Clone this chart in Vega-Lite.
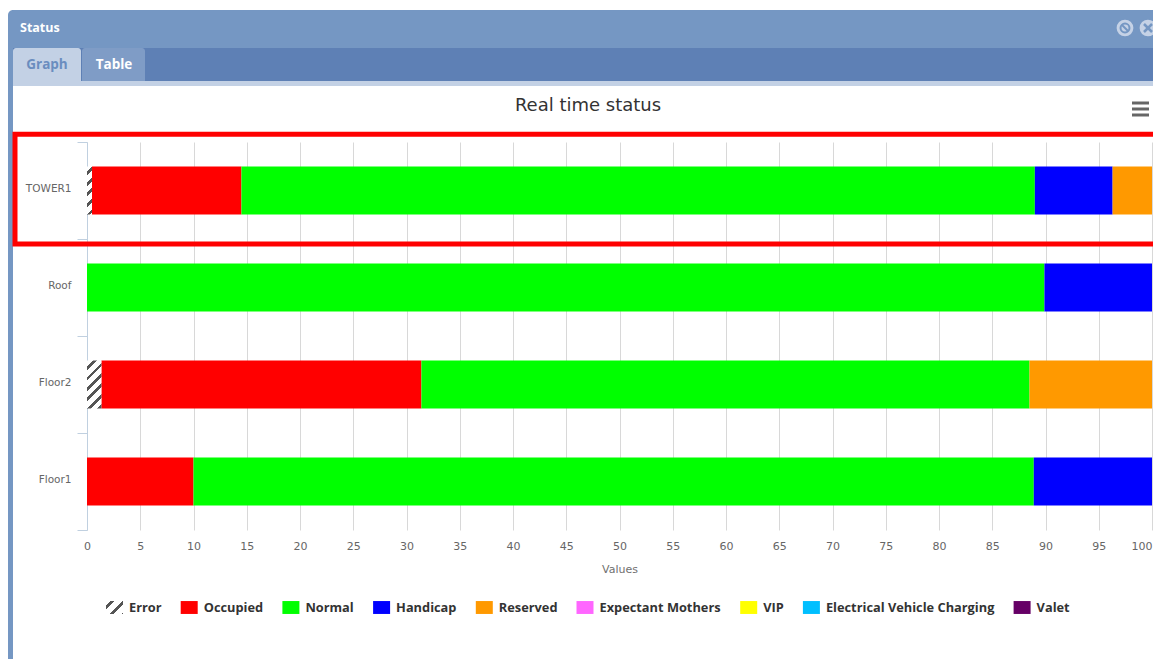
{"$schema":"https://vega.github.io/schema/vega-lite/v6.json","width":1065,"height":388,"autosize":{"type":"none"},"padding":{"left":87,"top":142,"right":1,"bottom":129},"background":"#ffffff","config":{"view":{"stroke":null}},"datasets":{"status":[{"location":"TOWER1","status":"Error","seq":1,"value":0.47},{"location":"TOWER1","status":"Occupied","seq":2,"value":14.03},{"location":"TOWER1","status":"Normal","seq":3,"value":74.5},{"location":"TOWER1","status":"Handicap","seq":4,"value":7.3},{"location":"TOWER1","status":"Reserved","seq":5,"value":3.7},{"location":"Roof","status":"Normal","seq":3,"value":89.9},{"location":"Roof","status":"Handicap","seq":4,"value":10.1},{"location":"Floor2","status":"Error","seq":1,"value":1.35},{"location":"Floor2","status":"Occupied","seq":2,"value":30.05},{"location":"Floor2","status":"Normal","seq":3,"value":57.1},{"location":"Floor2","status":"Reserved","seq":5,"value":11.5},{"location":"Floor1","status":"Occupied","seq":2,"value":10},{"location":"Floor1","status":"Normal","seq":3,"value":78.9},{"location":"Floor1","status":"Handicap","seq":4,"value":11.1}]},"resolve":{"scale":{"x":"independent","y":"independent"}},"layer":[{"data":{"values":[{}]},"layer":[{"mark":{"type":"rect","color":"#7597c3","cornerRadiusTopLeft":5,"cornerRadiusTopRight":5,"clip":false},"encoding":{"x":{"datum":-79,"type":"quantitative","axis":null,"scale":{"domain":[0,1065],"nice":false,"zero":false}},"x2":{"datum":1070},"y":{"datum":-132,"type":"quantitative","axis":null,"scale":{"domain":[0,388],"reverse":true,"nice":false,"zero":false}},"y2":{"datum":-94}}},{"mark":{"type":"rect","color":"#7597c3"},"encoding":{"x":{"datum":-79,"type":"quantitative","axis":null},"x2":{"datum":-74},"y":{"datum":-100,"type":"quantitative","axis":null},"y2":{"datum":517}}},{"mark":{"type":"rect","color":"#5e80b5"},"encoding":{"x":{"datum":-74,"type":"quantitative","axis":null},"x2":{"datum":1070},"y":{"datum":-94,"type":"quantitative","axis":null},"y2":{"datum":-61}}},{"mark":{"type":"rect","color":"#c3d1e5"},"encoding":{"x":{"datum":-74,"type":"quantitative","axis":null},"x2":{"datum":1070},"y":{"datum":-61,"type":"quantitative","axis":null},"y2":{"datum":-56}}},{"mark":{"type":"rect","color":"#c3d1e5","cornerRadiusTopLeft":3,"cornerRadiusTopRight":3},"encoding":{"x":{"datum":-74,"type":"quantitative","axis":null},"x2":{"datum":-6},"y":{"datum":-94,"type":"quantitative","axis":null},"y2":{"datum":-61}}},{"mark":{"type":"rect","color":"#7f9cc6","cornerRadiusTopLeft":3,"cornerRadiusTopRight":3},"encoding":{"x":{"datum":-5,"type":"quantitative","axis":null},"x2":{"datum":58},"y":{"datum":-94,"type":"quantitative","axis":null},"y2":{"datum":-61}}},{"mark":{"type":"text","text":"Status","font":"Open Sans","fontWeight":"bold","fontSize":12.5,"color":"#ffffff","align":"left","baseline":"middle"},"encoding":{"x":{"datum":-67,"type":"quantitative","axis":null},"y":{"datum":-114,"type":"quantitative","axis":null}}},{"mark":{"type":"text","text":"Graph","font":"Open Sans","fontWeight":"bold","fontSize":13.5,"color":"#6a8dbf","align":"center","baseline":"middle"},"encoding":{"x":{"datum":-40,"type":"quantitative","axis":null},"y":{"datum":-77,"type":"quantitative","axis":null}}},{"mark":{"type":"text","text":"Table","font":"Open Sans","fontWeight":"bold","fontSize":13.5,"color":"#ffffff","align":"center","baseline":"middle"},"encoding":{"x":{"datum":27,"type":"quantitative","axis":null},"y":{"datum":-77,"type":"quantitative","axis":null}}},{"mark":{"type":"text","text":"Real time status","font":"DejaVu Sans","fontSize":18,"color":"#333333","align":"center","baseline":"middle"},"encoding":{"x":{"datum":501,"type":"quantitative","axis":null},"y":{"datum":-36,"type":"quantitative","axis":null}}},{"mark":{"type":"point","filled":true,"shape":"circle","size":280,"color":"#c5d2e6","opacity":1},"encoding":{"x":{"datum":1038,"type":"quantitative","axis":null},"y":{"datum":-114,"type":"quantitative","axis":null}}},{"mark":{"type":"point","filled":false,"shape":"circle","size":80,"stroke":"#7597c3","strokeWidth":2,"opacity":1},"encoding":{"x":{"datum":1038,"type":"quantitative","axis":null},"y":{"datum":-114,"type":"quantitative","axis":null}}},{"mark":{"type":"rule","color":"#7597c3","strokeWidth":2},"encoding":{"x":{"datum":1035,"type":"quantitative","axis":null},"x2":{"datum":1041},"y":{"datum":-117,"type":"quantitative","axis":null},"y2":{"datum":-111}}},{"mark":{"type":"point","filled":true,"shape":"circle","size":280,"color":"#c5d2e6","opacity":1},"encoding":{"x":{"datum":1061,"type":"quantitative","axis":null},"y":{"datum":-114,"type":"quantitative","axis":null}}},{"mark":{"type":"rule","color":"#7597c3","strokeWidth":2.5},"encoding":{"x":{"datum":1057,"type":"quantitative","axis":null},"x2":{"datum":1065},"y":{"datum":-118,"type":"quantitative","axis":null},"y2":{"datum":-110}}},{"mark":{"type":"rule","color":"#7597c3","strokeWidth":2.5},"encoding":{"x":{"datum":1065,"type":"quantitative","axis":null},"x2":{"datum":1057},"y":{"datum":-118,"type":"quantitative","axis":null},"y2":{"datum":-110}}},{"mark":{"type":"rule","color":"#666666","strokeWidth":3},"encoding":{"x":{"datum":1045,"type":"quantitative","axis":null},"x2":{"datum":1062},"y":{"datum":-39,"type":"quantitative","axis":null}}},{"mark":{"type":"rule","color":"#666666","strokeWidth":3},"encoding":{"x":{"datum":1045,"type":"quantitative","axis":null},"x2":{"datum":1062},"y":{"datum":-33,"type":"quantitative","axis":null}}},{"mark":{"type":"rule","color":"#666666","strokeWidth":3},"encoding":{"x":{"datum":1045,"type":"quantitative","axis":null},"x2":{"datum":1062},"y":{"datum":-27,"type":"quantitative","axis":null}}},{"mark":{"type":"rect","fillOpacity":0,"stroke":"#ff0000","strokeWidth":5,"clip":false},"encoding":{"x":{"datum":-72,"type":"quantitative","axis":null},"x2":{"datum":1085},"y":{"datum":-7.7,"type":"quantitative","axis":null},"y2":{"datum":102}}},{"mark":{"type":"rect","clip":false,"color":{"gradient":"linear","x1":0,"y1":0,"x2":1.11,"y2":0.85,"stops":[{"offset":0,"color":"#ffffff"},{"offset":0.15,"color":"#ffffff"},{"offset":0.15,"color":"#555555"},{"offset":0.27,"color":"#555555"},{"offset":0.27,"color":"#ffffff"},{"offset":0.55,"color":"#ffffff"},{"offset":0.55,"color":"#555555"},{"offset":0.67,"color":"#555555"},{"offset":0.67,"color":"#ffffff"},{"offset":0.95,"color":"#ffffff"},{"offset":0.95,"color":"#555555"},{"offset":1,"color":"#555555"}]}},"encoding":{"x":{"datum":19,"type":"quantitative","axis":null},"x2":{"datum":36},"y":{"datum":459,"type":"quantitative","axis":null},"y2":{"datum":472}}}]},{"data":{"name":"status"},"layer":[{"mark":{"type":"bar","size":48},"encoding":{"y":{"field":"location","type":"nominal","sort":["TOWER1","Roof","Floor2","Floor1"],"scale":{"padding":0},"axis":{"title":null,"tickBand":"extent","tickSize":10,"tickColor":"#c0d0e0","domainColor":"#c0d0e0","labelPadding":6,"labelOffset":-2,"labelFont":"DejaVu Sans","labelFontSize":10.5,"labelColor":"#666666","grid":false}},"x":{"field":"value","type":"quantitative","stack":"zero","scale":{"domain":[0,100],"nice":false},"axis":{"title":"Values","values":[0,5,10,15,20,25,30,35,40,45,50,55,60,65,70,75,80,85,90,95,100],"grid":true,"gridColor":"#d8d8d8","tickSize":0,"domain":false,"labelPadding":10,"labelFont":"DejaVu Sans","labelFontSize":11,"labelColor":"#666666","labelBound":false,"labelFlush":false,"labelAlign":{"expr":"datum.value===100?'right':'center'"},"titleFont":"DejaVu Sans","titleFontSize":11,"titleFontWeight":"normal","titleColor":"#707070","titlePadding":12}},"order":{"field":"seq"},"color":{"field":"status","type":"nominal","scale":{"domain":["Error","Occupied","Normal","Handicap","Reserved","Expectant Mothers","VIP","Electrical Vehicle Charging","Valet"],"range":["transparent","#ff0000","#00ff00","#0000ff","#ff9900","#ff66ff","#ffff00","#00bfff","#660066"]},"legend":{"title":null,"orient":"none","legendX":19,"legendY":457,"direction":"horizontal","columns":9,"gridAlign":"none","columnPadding":18.7,"symbolType":"M-1,-0.76H1V0.76H-1Z","symbolSize":289,"symbolStrokeWidth":0,"labelOffset":6,"labelFont":"Open Sans","labelFontSize":12.8,"labelFontWeight":"bold","labelColor":"#333333","labelLimit":300}}}},{"transform":[{"filter":"datum.location==='Floor2' && datum.status==='Error'"}],"mark":{"type":"bar","size":48,"color":{"gradient":"linear","x1":0,"y1":0,"x2":0.358,"y2":1.193,"stops":[{"offset":0,"color":"#ffffff"},{"offset":0.1,"color":"#ffffff"},{"offset":0.1,"color":"#555555"},{"offset":0.16,"color":"#555555"},{"offset":0.16,"color":"#ffffff"},{"offset":0.267,"color":"#ffffff"},{"offset":0.267,"color":"#555555"},{"offset":0.327,"color":"#555555"},{"offset":0.327,"color":"#ffffff"},{"offset":0.433,"color":"#ffffff"},{"offset":0.433,"color":"#555555"},{"offset":0.493,"color":"#555555"},{"offset":0.493,"color":"#ffffff"},{"offset":0.6,"color":"#ffffff"},{"offset":0.6,"color":"#555555"},{"offset":0.66,"color":"#555555"},{"offset":0.66,"color":"#ffffff"},{"offset":0.767,"color":"#ffffff"},{"offset":0.767,"color":"#555555"},{"offset":0.827,"color":"#555555"},{"offset":0.827,"color":"#ffffff"},{"offset":0.933,"color":"#ffffff"},{"offset":0.933,"color":"#555555"},{"offset":1,"color":"#555555"}]}},"encoding":{"y":{"field":"location","type":"nominal","sort":["TOWER1","Roof","Floor2","Floor1"]},"x":{"field":"value","type":"quantitative"}}},{"transform":[{"filter":"datum.location==='TOWER1' && datum.status==='Error'"}],"mark":{"type":"bar","size":48,"color":{"gradient":"linear","x1":0,"y1":0,"x2":0.114,"y2":1.092,"stops":[{"offset":0,"color":"#ffffff"},{"offset":0.1,"color":"#ffffff"},{"offset":0.1,"color":"#555555"},{"offset":0.17,"color":"#555555"},{"offset":0.17,"color":"#ffffff"},{"offset":0.3,"color":"#ffffff"},{"offset":0.3,"color":"#555555"},{"offset":0.37,"color":"#555555"},{"offset":0.37,"color":"#ffffff"},{"offset":0.5,"color":"#ffffff"},{"offset":0.5,"color":"#555555"},{"offset":0.57,"color":"#555555"},{"offset":0.57,"color":"#ffffff"},{"offset":0.7,"color":"#ffffff"},{"offset":0.7,"color":"#555555"},{"offset":0.77,"color":"#555555"},{"offset":0.77,"color":"#ffffff"},{"offset":0.9,"color":"#ffffff"},{"offset":0.9,"color":"#555555"},{"offset":0.97,"color":"#555555"},{"offset":0.97,"color":"#ffffff"},{"offset":1,"color":"#ffffff"}]}},"encoding":{"y":{"field":"location","type":"nominal","sort":["TOWER1","Roof","Floor2","Floor1"]},"x":{"field":"value","type":"quantitative"}}}]}]}
